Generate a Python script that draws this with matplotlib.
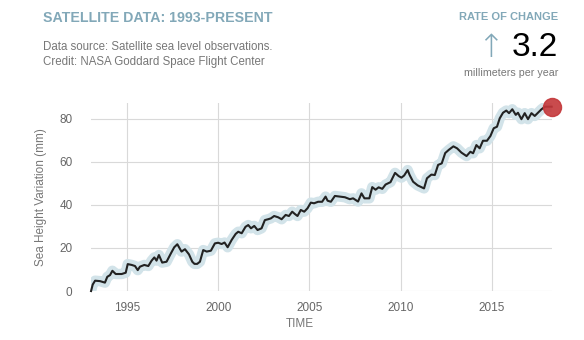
import matplotlib
matplotlib.use("Agg")
import matplotlib.pyplot as plt

plt.rcParams['font.family'] = ['Liberation Sans', 'DejaVu Sans']

years = [1993.03, 1993.12, 1993.25, 1993.52, 1993.79, 1993.92, 1994.07, 1994.2, 1994.38, 1994.71,
         1994.93, 1995.04, 1995.26, 1995.44, 1995.59, 1995.71, 1995.95, 1996.17, 1996.35, 1996.5,
         1996.62, 1996.75, 1996.93, 1997.17, 1997.41, 1997.59, 1997.76, 1997.99, 1998.18, 1998.4,
         1998.58, 1998.7, 1998.85, 1999.0, 1999.18, 1999.37, 1999.6, 1999.82, 2000.0, 2000.19,
         2000.35, 2000.52, 2000.74, 2000.96, 2001.1, 2001.29, 2001.5, 2001.65, 2001.8, 2001.98,
         2002.16, 2002.38, 2002.56, 2002.74, 2002.89, 2003.07, 2003.29, 2003.48, 2003.7, 2003.88,
         2004.06, 2004.21, 2004.35, 2004.53, 2004.72, 2004.9, 2005.08, 2005.26, 2005.48, 2005.7,
         2005.89, 2006.0, 2006.18, 2006.4, 2006.67, 2006.95, 2007.22, 2007.4, 2007.67, 2007.86,
         2008.02, 2008.29, 2008.45, 2008.63, 2008.8, 2009.0, 2009.18, 2009.45, 2009.7, 2009.9,
         2010.05, 2010.2, 2010.39, 2010.5, 2010.69, 2010.94, 2011.2, 2011.29, 2011.45, 2011.69,
         2011.88, 2012.06, 2012.26, 2012.45, 2012.65, 2012.9, 2013.1, 2013.34, 2013.62, 2013.83,
         2013.98, 2014.16, 2014.34, 2014.52, 2014.74, 2014.93, 2015.11, 2015.29, 2015.44, 2015.62,
         2015.8, 2015.95, 2016.13, 2016.32, 2016.44, 2016.63, 2016.81, 2016.99, 2017.18, 2017.36,
         2017.54, 2017.73, 2017.92, 2018.29]
sea_level = [0.0, 3.0, 4.8, 4.6, 3.9, 6.6, 7.4, 9.4, 7.9, 7.9,
             8.5, 12.5, 12.1, 11.6, 9.7, 11.3, 12.1, 11.6, 14.1, 15.6,
             14.1, 16.7, 13.2, 13.6, 17.5, 20.3, 21.7, 18.3, 19.4, 17.0,
             13.6, 12.6, 12.6, 13.6, 19.0, 18.3, 18.7, 22.1, 22.4, 21.8,
             22.5, 20.3, 23.7, 26.5, 27.5, 26.8, 29.8, 30.6, 29.1, 30.2,
             28.3, 29.1, 32.9, 33.3, 33.7, 34.8, 34.2, 33.3, 35.3, 34.8,
             36.8, 35.7, 34.8, 37.6, 36.8, 38.4, 41.0, 40.7, 41.4, 41.4,
             43.8, 41.9, 41.4, 44.1, 43.8, 43.5, 42.6, 43.0, 41.5, 45.3,
             43.0, 43.0, 48.2, 47.0, 48.1, 47.4, 49.4, 50.5, 54.8, 53.3,
             52.6, 53.6, 56.1, 53.8, 50.7, 49.0, 48.0, 47.6, 52.3, 54.0,
             53.8, 58.5, 59.2, 64.0, 65.5, 67.1, 66.2, 64.2, 62.6, 64.6,
             63.9, 67.7, 66.2, 69.7, 69.7, 71.9, 75.5, 76.2, 80.1, 82.7,
             83.7, 82.5, 84.3, 81.7, 82.7, 79.7, 82.5, 79.7, 82.5, 81.2,
             82.7, 84.3, 85.5, 85.5]

x_ticks = [1995, 2000, 2005, 2010, 2015]
y_ticks = [0, 20, 40, 60, 80]
rate = "3.2"

blue = '#82a8b8'
gray = '#777777'

fig = plt.figure(figsize=(5.84, 3.40), dpi=100)
ax = fig.add_axes([0.155, 0.144, 0.79, 0.553])

ax.plot(years, sea_level, color='#d2e3e9', lw=7.5, solid_capstyle='butt', zorder=2)
ax.plot(years, sea_level, color='#222222', lw=1.5, zorder=3, clip_on=False)
ax.plot([years[-1]], [sea_level[-1]], 'o', ms=13, color='#c4373a', alpha=0.9,
        zorder=4, clip_on=False)

ax.set_xlim(1993, 2018.3)
ax.set_ylim(0, 87.2)
ax.set_xticks(x_ticks)
ax.set_yticks(y_ticks)
ax.grid(True, color='#d9d9d9', lw=0.8, zorder=0)
for s in ax.spines.values():
    s.set_visible(False)
ax.tick_params(length=0, labelsize=8.5, labelcolor='#666666')
ax.tick_params(axis='y', pad=13)
ax.tick_params(axis='x', pad=8)
ax.set_ylabel('Sea Height Variation (mm)', fontsize=8.5, color=gray, labelpad=9)

fig.text(300 / 584, 1 - 324 / 340, 'TIME', ha='center', va='center', fontsize=8.5, color=gray)

fig.text(43 / 584, 1 - 18 / 340, 'SATELLITE DATA: 1993-PRESENT', ha='left', va='center',
         fontsize=10.2, fontweight='bold', color=blue)
fig.text(43 / 584, 1 - 47 / 340, 'Data source: Satellite sea level observations.', ha='left',
         va='center', fontsize=8.3, color=gray)
fig.text(43 / 584, 1 - 62 / 340, 'Credit: NASA Goddard Space Flight Center', ha='left',
         va='center', fontsize=8.3, color=gray)

fig.text(558 / 584, 1 - 17 / 340, 'RATE OF CHANGE', ha='right', va='center',
         fontsize=8, fontweight='bold', color=blue)
fig.text(558 / 584, 1 - 47 / 340, rate, ha='right', va='center', fontsize=24, color='black')
fig.text(490 / 584, 1 - 48 / 340, '\u2191', ha='center', va='center', fontsize=23,
         color=blue, family=['DejaVu Sans'], fontweight='light')
fig.text(558 / 584, 1 - 73 / 340, 'millimeters per year', ha='right', va='center',
         fontsize=7.7, color=gray)

fig.savefig('out.png', dpi=100)
